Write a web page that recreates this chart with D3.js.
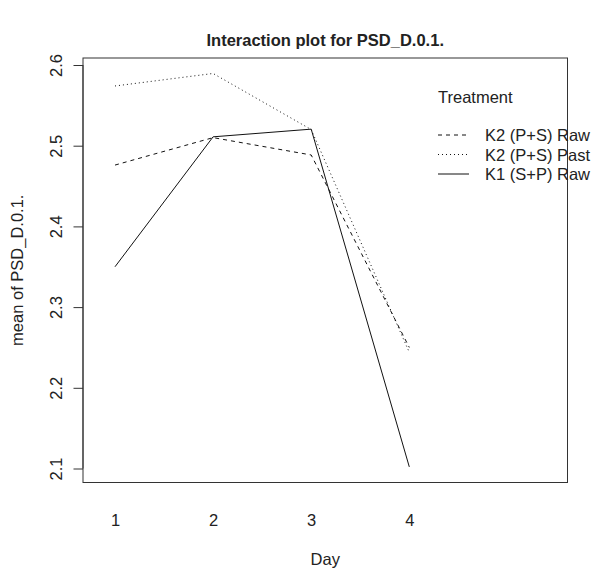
<!DOCTYPE html>
<html>
<head>
<meta charset="utf-8">
<script src="https://cdn.jsdelivr.net/npm/d3@7"></script>
<style>
  body { margin: 0; background: #fff; }
  svg { display: block; }
  text { font-family: "Liberation Sans", Arial, Helvetica, sans-serif; fill: #222; }
</style>
</head>
<body>
<svg id="chart" width="597" height="572"></svg>
<script>
// ---- data ----
const days = [1, 2, 3, 4];
const seriesNames = ["K2 (P+S) Raw", "K2 (P+S) Past", "K1 (S+P) Raw"];
const k2RawValues  = [2.476, 2.510, 2.4885, 2.250];
const k2PastValues = [2.574, 2.5895, 2.520, 2.244];
const k1RawValues  = [2.350, 2.511, 2.5205, 2.102];
const yTicks = [2.1, 2.2, 2.3, 2.4, 2.5, 2.6];
const dashStyles = ["4,4", "1,3", null];

const series = [k2RawValues, k2PastValues, k1RawValues];
const FS = "16.5px";

const svg = d3.select("#chart");

// plot box
const box = { left: 83, right: 567.5, top: 58, bottom: 482.5 };

const x = d3.scaleLinear().domain([1, 4]).range([115, 409.3]);
const y = d3.scaleLinear().domain([2.1, 2.6]).range([468.5, 65]);

// box
svg.append("rect")
  .attr("x", box.left).attr("y", box.top)
  .attr("width", box.right - box.left).attr("height", box.bottom - box.top)
  .attr("fill", "none").attr("stroke", "#333").attr("stroke-width", 1);

// y axis
const yAxis = svg.append("g")
  .attr("transform", `translate(${box.left},0)`)
  .call(d3.axisLeft(y).tickValues(yTicks).tickSize(9.5).tickFormat(d3.format(".1f")));
yAxis.select(".domain")
  .attr("d", `M0,${y(2.1)}V${y(2.6)}`).attr("stroke", "#333");
yAxis.selectAll(".tick line").attr("stroke", "#333");
yAxis.selectAll(".tick text")
  .attr("x", null).attr("dy", null)
  .attr("text-anchor", "middle")
  .attr("dominant-baseline", "central")
  .attr("transform", "translate(-27,0) rotate(-90)")
  .style("font-size", FS)
  .style("font-family", "Liberation Sans, Arial, sans-serif")
  .attr("fill", "#222");

// x axis labels (no ticks)
const xAxis = svg.append("g")
  .attr("transform", `translate(0,${box.bottom})`)
  .call(d3.axisBottom(x).tickValues(days).tickSize(0).tickFormat(d3.format("d")));
xAxis.select(".domain").remove();
xAxis.selectAll(".tick text")
  .attr("y", 0).attr("dy", null)
  .attr("transform", "translate(0,37)")
  .attr("dominant-baseline", "central")
  .style("font-size", FS)
  .style("font-family", "Liberation Sans, Arial, sans-serif")
  .attr("fill", "#222");

// lines
const line = d3.line().x((d, i) => x(days[i])).y(d => y(d));
series.forEach((vals, i) => {
  svg.append("path")
    .datum(vals)
    .attr("d", line)
    .attr("fill", "none")
    .attr("stroke", "#111")
    .attr("stroke-width", 1)
    .attr("stroke-dasharray", dashStyles[i]);
});

// title
svg.append("text")
  .attr("x", (box.left + box.right) / 2).attr("y", 40)
  .attr("text-anchor", "middle").attr("dominant-baseline", "central")
  .style("font-size", "16.5px").style("font-weight", "bold")
  .text("Interaction plot for PSD_D.0.1.");

// axis titles
svg.append("text")
  .attr("x", (box.left + box.right) / 2).attr("y", 559)
  .attr("text-anchor", "middle").attr("dominant-baseline", "central")
  .style("font-size", FS)
  .text("Day");
svg.append("text")
  .attr("transform", `translate(17,${(box.top + box.bottom) / 2}) rotate(-90)`)
  .attr("text-anchor", "middle").attr("dominant-baseline", "central")
  .style("font-size", FS)
  .text("mean of PSD_D.0.1.");

// legend
const lg = svg.append("g");
lg.append("text")
  .attr("x", 438).attr("y", 97)
  .attr("dominant-baseline", "central")
  .style("font-size", FS)
  .text("Treatment");
const legendY = [135, 154.5, 174];
seriesNames.forEach((name, i) => {
  lg.append("line")
    .attr("x1", 438).attr("x2", 469)
    .attr("y1", legendY[i]).attr("y2", legendY[i])
    .attr("stroke", "#111").attr("stroke-width", 1)
    .attr("stroke-dasharray", dashStyles[i]);
  lg.append("text")
    .attr("x", 485).attr("y", legendY[i])
    .attr("dominant-baseline", "central")
    .style("font-size", FS)
    .text(name);
});
</script>
</body>
</html>
